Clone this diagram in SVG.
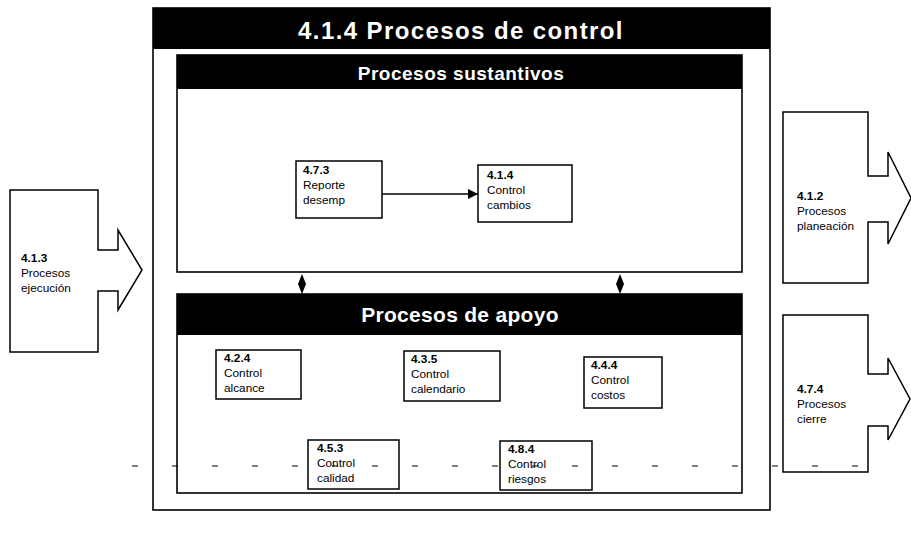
<svg xmlns="http://www.w3.org/2000/svg" width="911" height="535" viewBox="0 0 911 535">
<defs>
<style>
.frame{fill:none;stroke:#000;stroke-width:1.6}
.bar{fill:#000}
.box{fill:#fff;stroke:#000;stroke-width:1.5}
.arr{fill:#fff;stroke:#000;stroke-width:1.5;stroke-linejoin:miter}
.t{font-family:"Liberation Sans",Arial,sans-serif;font-size:11.8px;fill:#000}
.tb{font-weight:bold}
.h{font-family:"Liberation Sans",Arial,sans-serif;font-weight:bold;fill:#fff;text-anchor:middle}
.dash{stroke:#000;stroke-width:1;stroke-dasharray:6 34;fill:none}
</style>
<marker id="ah" markerWidth="10" markerHeight="10" refX="10" refY="5" orient="auto" markerUnits="userSpaceOnUse">
<path d="M0,0 L10,5 L0,10 Z" fill="#000"/>
</marker>
</defs>
<rect width="911" height="535" fill="#fff"/>

<g id="control">
<rect class="frame" x="153" y="8" width="617" height="502"/>
<rect class="bar" x="153" y="8" width="617" height="41"/>
<text class="h" x="461" y="39" font-size="24" letter-spacing="1.4">4.1.4 Procesos de control</text>
</g>

<g id="sustantivos">
<rect class="frame" x="177" y="55" width="565" height="217"/>
<rect class="bar" x="177" y="55" width="565" height="34"/>
<text class="h" x="461" y="80" font-size="19" letter-spacing="0.5">Procesos sustantivos</text>
</g>

<g id="apoyo">
<rect class="frame" x="177" y="294" width="565" height="199"/>
<rect class="bar" x="177" y="294" width="565" height="41"/>
<text class="h" x="460" y="322" font-size="21" letter-spacing="0.3">Procesos de apoyo</text>
</g>

<g id="n473">
<rect class="box" x="296" y="161" width="86" height="57"/>
<text class="t"><tspan class="tb" x="303" y="174">4.7.3</tspan><tspan x="303" y="189">Reporte</tspan><tspan x="303" y="204">desemp</tspan></text>
</g>
<g id="n414">
<rect class="box" x="478" y="165" width="94" height="57"/>
<text class="t"><tspan class="tb" x="487" y="179">4.1.4</tspan><tspan x="487" y="194">Control</tspan><tspan x="487" y="209">cambios</tspan></text>
</g>

<g id="n424">
<rect class="box" x="216" y="350" width="85" height="49"/>
<text class="t"><tspan class="tb" x="224" y="362">4.2.4</tspan><tspan x="224" y="377">Control</tspan><tspan x="224" y="392">alcance</tspan></text>
</g>
<g id="n435">
<rect class="box" x="404" y="351" width="96" height="50"/>
<text class="t"><tspan class="tb" x="411" y="363">4.3.5</tspan><tspan x="411" y="378">Control</tspan><tspan x="411" y="393">calendario</tspan></text>
</g>
<g id="n444">
<rect class="box" x="584" y="357" width="78" height="51"/>
<text class="t"><tspan class="tb" x="591" y="369">4.4.4</tspan><tspan x="591" y="384">Control</tspan><tspan x="591" y="399">costos</tspan></text>
</g>
<g id="n453">
<rect class="box" x="308" y="440" width="91" height="49"/>
<text class="t"><tspan class="tb" x="317" y="452">4.5.3</tspan><tspan x="317" y="467">Control</tspan><tspan x="317" y="482">calidad</tspan></text>
</g>
<g id="n484">
<rect class="box" x="500" y="441" width="92" height="49"/>
<text class="t"><tspan class="tb" x="508" y="453">4.8.4</tspan><tspan x="508" y="468">Control</tspan><tspan x="508" y="483">riesgos</tspan></text>
</g>

<g id="ejecucion">
<path class="arr" d="M10,190 L98,190 L98,250 L118,250 L118,230 L142,270 L118,310 L118,291 L98,291 L98,352 L10,352 Z"/>
<text class="t"><tspan class="tb" x="21" y="262">4.1.3</tspan><tspan x="21" y="277">Procesos</tspan><tspan x="21" y="292">ejecución</tspan></text>
</g>

<g id="planeacion">
<path class="arr" d="M783,112 L868,112 L868,176 L888,176 L888,152 L911,198 L888,244 L888,222 L868,222 L868,283 L783,283 Z"/>
<text class="t"><tspan class="tb" x="797" y="200">4.1.2</tspan><tspan x="797" y="215">Procesos</tspan><tspan x="797" y="230">planeación</tspan></text>
</g>

<g id="cierre">
<path class="arr" d="M783,315 L868,315 L868,374 L888,374 L888,358 L910,399 L888,440 L888,426 L868,426 L868,472 L783,472 Z"/>
<text class="t"><tspan class="tb" x="797" y="393">4.7.4</tspan><tspan x="797" y="408">Procesos</tspan><tspan x="797" y="423">cierre</tspan></text>
</g>

<g id="connectors">
<line x1="382" y1="194" x2="478" y2="194" stroke="#000" stroke-width="1.5" marker-end="url(#ah)"/>
<path d="M302,274 L306,284 L302,294 L298,284 Z" fill="#000"/>
<path d="M620,274 L624,284 L620,294 L616,284 Z" fill="#000"/>
<line class="dash" x1="132" y1="466" x2="878" y2="466"/>
</g>
</svg>
